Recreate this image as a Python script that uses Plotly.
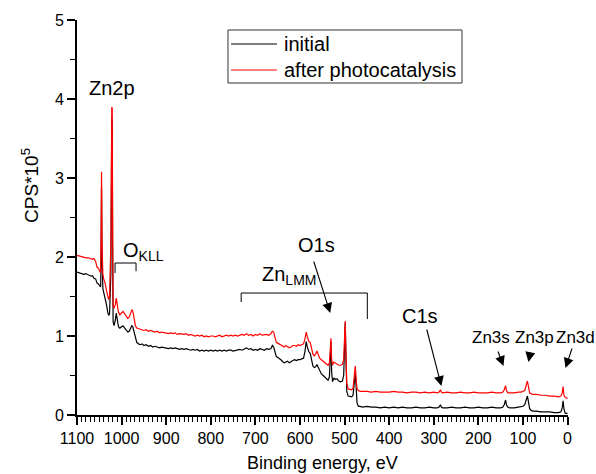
import plotly.graph_objects as go

# ---------------- data ----------------
energy = [1100, 1095, 1090, 1085, 1080, 1075, 1070, 1065, 1062, 1058, 1055, 1052, 1049, 1047,
          1046, 1045, 1044, 1042, 1040, 1037, 1034, 1031, 1029, 1027, 1024, 1022, 1021, 1020,
          1019, 1017, 1014, 1012, 1010, 1007, 1004, 1000, 997, 993, 989, 986, 983, 980, 977,
          975, 972, 969, 966, 962, 958, 954, 950, 945, 940, 935, 930, 925, 920, 915, 910, 905,
          900, 895, 890, 885, 880, 875, 870, 865, 860, 855, 850, 845, 840, 835, 830, 825, 820,
          815, 810, 805, 800, 795, 790, 785, 780, 775, 770, 765, 760, 755, 750, 745, 740, 735,
          730, 725, 720, 715, 710, 705, 700, 695, 690, 685, 680, 675, 670, 665, 662, 659, 656,
          653, 650, 647, 644, 641, 638, 635, 632, 628, 624, 620, 616, 612, 608, 604, 600, 596,
          592, 589, 586, 583, 580, 577, 574, 571, 568, 565, 562, 559, 556, 552, 548, 544, 540,
          537, 534, 532, 530.5, 529, 527, 524, 521, 517, 513, 509, 505, 502, 500, 498.5, 497,
          495, 492, 488, 484, 481, 478, 476, 474, 472, 469, 465, 460, 450, 440, 430, 420, 410,
          400, 390, 380, 370, 360, 350, 340, 330, 320, 310, 300, 292, 288, 285, 283, 280, 270,
          260, 250, 240, 230, 220, 210, 200, 190, 180, 170, 160, 150, 145, 142, 139, 137, 134,
          130, 120, 110, 104, 100, 96, 93, 90, 88, 85, 82, 78, 70, 60, 50, 40, 30, 20, 15, 12,
          10, 8, 5, 2, 0]

initial = [1.81, 1.80, 1.80, 1.78, 1.79, 1.77, 1.76, 1.76, 1.73, 1.72, 1.67, 1.66, 1.63, 1.62,
           2.00, 2.87, 2.00, 1.60, 1.55, 1.49, 1.40, 1.30, 1.26, 1.28, 1.80, 3.75, 3.70, 2.00,
           1.18, 1.13, 1.20, 1.29, 1.22, 1.12, 1.10, 1.12, 1.13, 1.10, 1.07, 1.05, 1.06, 1.09, 1.13,
           1.12, 1.04, 0.97, 0.92, 0.90, 0.89, 0.90, 0.88, 0.89, 0.87, 0.88, 0.86, 0.87, 0.86, 0.85, 0.86, 0.85,
           0.85, 0.84, 0.85, 0.84, 0.85, 0.84, 0.83, 0.84, 0.83, 0.84, 0.83, 0.82, 0.83, 0.82, 0.83, 0.81, 0.82,
           0.81, 0.82, 0.81, 0.82, 0.81, 0.82, 0.81, 0.82, 0.81, 0.82, 0.81, 0.82, 0.82, 0.81, 0.82, 0.82, 0.83,
           0.82, 0.84, 0.85, 0.83, 0.84, 0.82, 0.83, 0.82, 0.84, 0.83, 0.82, 0.84, 0.83, 0.84, 0.88, 0.86, 0.80,
           0.74, 0.73, 0.72, 0.70, 0.69, 0.67, 0.66, 0.67, 0.68, 0.66, 0.68, 0.69, 0.70, 0.69, 0.70, 0.70, 0.71,
           0.72, 0.80, 0.93, 0.85, 0.80, 0.78, 0.68, 0.62, 0.60, 0.61, 0.64, 0.60, 0.55, 0.52, 0.50, 0.48, 0.46,
           0.44, 0.48, 0.75, 0.93, 0.55, 0.42, 0.47, 0.45, 0.46, 0.43, 0.42, 0.43, 0.50, 0.90, 1.17, 0.75,
           0.30, 0.24, 0.23, 0.23, 0.25, 0.40, 0.53, 0.35, 0.15, 0.11, 0.11, 0.10, 0.11, 0.10, 0.10, 0.09, 0.10,
           0.09, 0.10, 0.09, 0.10, 0.09, 0.09, 0.10, 0.09, 0.09, 0.10, 0.09, 0.09, 0.10, 0.13, 0.10, 0.09, 0.09,
           0.10, 0.09, 0.09, 0.10, 0.09, 0.09, 0.10, 0.09, 0.09, 0.10, 0.09, 0.09, 0.10, 0.13, 0.19, 0.13, 0.10,
           0.09, 0.09, 0.10, 0.11, 0.11, 0.13, 0.18, 0.24, 0.18, 0.08, 0.06, 0.05, 0.05, 0.04, 0.04, 0.04, 0.03, 0.03, 0.04, 0.09,
           0.18, 0.07, 0.02, 0.02, 0.02]

after = [2.02, 2.01, 2.00, 2.00, 1.99, 1.99, 1.98, 1.97, 1.98, 1.94, 1.87, 1.86, 1.82, 1.80,
         2.30, 3.08, 2.20, 1.78, 1.72, 1.67, 1.58, 1.50, 1.46, 1.50, 2.20, 3.90, 3.88, 2.20,
         1.38, 1.35, 1.40, 1.48, 1.40, 1.30, 1.27, 1.29, 1.31, 1.28, 1.24, 1.22, 1.24, 1.28, 1.33,
         1.32, 1.22, 1.13, 1.10, 1.09, 1.08, 1.08, 1.07, 1.08, 1.06, 1.07, 1.06, 1.05, 1.06, 1.04, 1.05, 1.04,
         1.04, 1.03, 1.04, 1.03, 1.04, 1.02, 1.03, 1.02, 1.02, 1.03, 1.01, 1.02, 1.01, 1.00, 1.01, 1.00, 1.01,
         0.99, 1.00, 0.99, 1.00, 1.00, 0.99, 1.00, 1.01, 0.99, 1.00, 1.01, 1.00, 1.01, 1.00, 1.01, 1.00, 1.01,
         1.02, 1.01, 1.03, 1.01, 1.02, 1.00, 1.02, 1.01, 1.03, 1.01, 1.02, 1.02, 1.01, 1.03, 1.06, 1.05, 0.98,
         0.92, 0.91, 0.90, 0.89, 0.87, 0.86, 0.86, 0.88, 0.87, 0.85, 0.86, 0.88, 0.88, 0.87, 0.89, 0.88, 0.89,
         0.90, 0.96, 1.05, 0.98, 0.93, 0.92, 0.82, 0.77, 0.75, 0.77, 0.81, 0.76, 0.72, 0.70, 0.68, 0.66, 0.64,
         0.63, 0.66, 0.85, 0.97, 0.70, 0.63, 0.67, 0.66, 0.64, 0.63, 0.63, 0.64, 0.70, 1.00, 1.19, 0.80,
         0.40, 0.33, 0.32, 0.32, 0.34, 0.50, 0.62, 0.45, 0.33, 0.31, 0.30, 0.30, 0.30, 0.29, 0.30, 0.29, 0.29,
         0.29, 0.30, 0.29, 0.29, 0.28, 0.29, 0.29, 0.28, 0.29, 0.28, 0.29, 0.28, 0.29, 0.32, 0.29, 0.28, 0.29,
         0.28, 0.28, 0.29, 0.28, 0.28, 0.29, 0.28, 0.28, 0.28, 0.29, 0.28, 0.28, 0.29, 0.32, 0.37, 0.31, 0.28,
         0.28, 0.28, 0.29, 0.29, 0.30, 0.31, 0.37, 0.43, 0.37, 0.28, 0.27, 0.26, 0.26, 0.25, 0.25, 0.24, 0.24, 0.23, 0.24, 0.28,
         0.36, 0.25, 0.22, 0.21, 0.21]

series_names = ["initial", "after photocatalysis"]
series_colors = ["#000000", "#ff0000"]

FONT = "Liberation Sans, Arial, sans-serif"

fig = go.Figure()
for name, vals, col in zip(series_names, [initial, after], series_colors):
    fig.add_trace(go.Scatter(x=energy, y=vals, mode="lines", name=name,
                             line=dict(color=col, width=1.2), showlegend=False))

fig.update_layout(
    width=596, height=474,
    margin=dict(l=77, r=28, t=20, b=59, autoexpand=False),
    paper_bgcolor="white", plot_bgcolor="white",
    font=dict(family=FONT, size=16, color="black"),
    showlegend=False,
)

fig.update_xaxes(range=[1100, -1], showline=True, linecolor="black", linewidth=2,
                 ticks="outside", ticklen=8, tickwidth=1.5, tickcolor="black",
                 tick0=0, dtick=100, showgrid=False, zeroline=False, automargin=False,
                 minor=dict(dtick=10, ticks="outside", ticklen=5, tickwidth=1, tickcolor="black", showgrid=False),
                 tickfont=dict(size=16))
fig.update_yaxes(range=[0, 5], showline=True, linecolor="black", linewidth=2,
                 ticks="outside", ticklen=8, tickwidth=1.5, tickcolor="black",
                 tick0=0, dtick=1, showgrid=False, zeroline=False, automargin=False,
                 minor=dict(dtick=0.5, ticks="outside", ticklen=5, tickwidth=1, tickcolor="black", showgrid=False),
                 tickfont=dict(size=16))

# axis titles placed like the reference
fig.add_annotation(xref="paper", yref="paper", x=-0.0957, y=0.58, text="CPS*10<sup>5</sup>",
                   textangle=-90, showarrow=False, font=dict(size=19),
                   xanchor="center", yanchor="middle")
fig.add_annotation(xref="paper", yref="paper", x=0.499, y=-0.1215, text="Binding energy, eV",
                   showarrow=False, font=dict(size=18), xanchor="center", yanchor="middle")

# legend box (drawn as in the reference)
leg_x0, leg_x1 = 0.3075, 0.7841
leg_y0, leg_y1 = 0.8405, 0.9747
fig.add_shape(type="rect", xref="paper", yref="paper", x0=leg_x0, x1=leg_x1, y0=leg_y0, y1=leg_y1,
              line=dict(color="#333333", width=1), fillcolor="white", layer="above")
leg_rows = [0.9392, 0.8734]
for name, col, ry in zip(series_names, series_colors, leg_rows):
    fig.add_shape(type="line", xref="paper", yref="paper", x0=0.3136, x1=0.4073, y0=ry, y1=ry,
                  line=dict(color=col, width=1.2), layer="above")
    fig.add_annotation(xref="paper", yref="paper", x=0.4175, y=ry, text=name, showarrow=False,
                       font=dict(size=20), xanchor="left", yanchor="middle")

# peak labels
labels = [
    ("Zn2p", 1021.4, 4.14, 20, "center"),
    ("O<sub>KLL</sub>", 1001.2, 2.07, 20, "left"),
    ("Zn<sub>LMM</sub>", 689.2, 1.76, 20, "left"),
    ("O1s", 563.5, 2.15, 20, "center"),
    ("C1s", 330.0, 1.253, 20, "center"),
    ("Zn3s", 170.7, 0.987, 17, "center"),
    ("Zn3p", 74.2, 0.987, 17, "center"),
]
for txt, ex, ey, fs, xa in labels:
    fig.add_annotation(x=ex, y=ey, text=txt, showarrow=False, font=dict(size=fs),
                       xanchor=xa, yanchor="middle")
fig.add_annotation(xref="paper", yref="y", x=1.0, y=0.987, text="Zn3d", showarrow=False,
                   font=dict(size=17), xanchor="left", yanchor="middle", xshift=-14)

# arrows: head position in data coords, tail offset in pixels
arrows = [
    (532.1, 1.291, -17, -53),
    (282.9, 0.367, -15, -58),
    (143.7, 0.620, -6, -16),
    (87.6, 0.671, 2, -11),
    (4.6, 0.595, 7, -21),
]
for hx, hy, ax, ay in arrows:
    fig.add_annotation(x=hx, y=hy, ax=ax, ay=ay, text="", showarrow=True,
                       arrowhead=2, arrowsize=1.8, arrowwidth=1.1, arrowcolor="black",
                       standoff=0, startstandoff=0)

# brackets
brackets = [
    (1014.7, 967.6, 1.924, 1.797, 1.82),
    (731.9, 449.0, 1.544, 1.43, 1.215),
]
for x0, x1, yh, yl0, yl1 in brackets:
    path = f"M {x0},{yl0} L {x0},{yh} L {x1},{yh} L {x1},{yl1}"
    fig.add_shape(type="path", path=path, xref="x", yref="y",
                  line=dict(color="black", width=1))

fig.write_html("out.html")
